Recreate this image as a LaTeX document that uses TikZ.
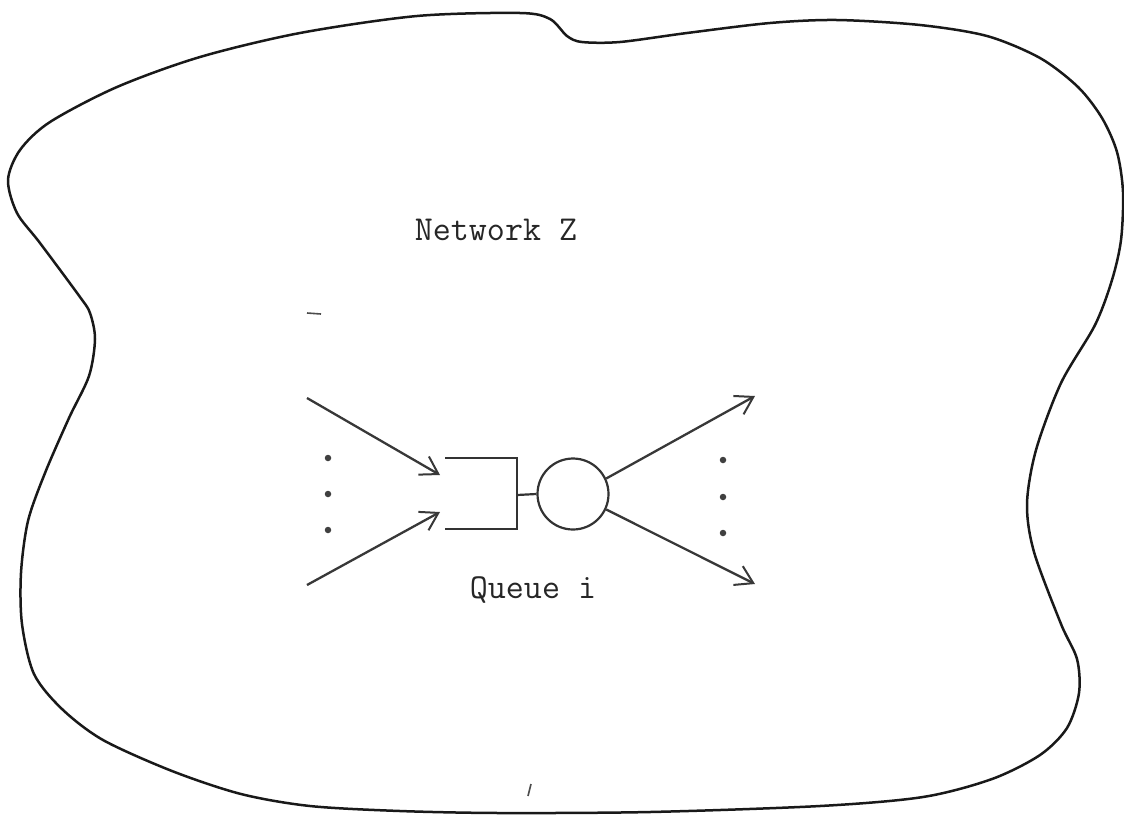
\documentclass[tikz,border=0pt]{standalone}
\usepackage{fontspec}
\usetikzlibrary{arrows.meta}
\begin{document}
\begin{tikzpicture}[x=1pt,y=-1pt,
  outline/.style={line width=2.5pt,draw=black!90,line join=round},
  flow/.style={line width=2.3pt,draw=black!78,
    -{Straight Barb[length=17pt,width=21pt,line width=2pt]}},
  part/.style={line width=2.2pt,draw=black!80},
  dotmark/.style={circle,fill=black!75,inner sep=0pt,minimum size=6.5pt},
  label/.style={font=\ttfamily\fontsize{35}{40}\selectfont\addfontfeatures{FakeBold=1},
    text=black!85,anchor=base,inner sep=0pt},
  speck/.style={line width=1.6pt,draw=black!70}]
\useasboundingbox (0,0) rectangle (1124,820);

% boundary of the network
\draw[outline] plot[smooth cycle,tension=0.5] coordinates {
  (8,180) (20,150) (50,122) (117,87) (200,57) (300,33) (417,16)
  (520,13) (550,19) (567,36) (582,42) (620,42) (687,33) (770,23)
  (837,20) (920,25) (987,36) (1040,58) (1078,87) (1102,118) (1117,152)
  (1123,192) (1121,240) (1112,280) (1095,325) (1061,383) (1036,450)
  (1027,504) (1034,552) (1061,624) (1077,659) (1079,693) (1067,728)
  (1040,755) (992,779) (923,797) (820,806) (650,812) (500,813) (400,811)
  (310,806) (241,794) (172,771) (103,740) (62,709) (34,674) (22,624)
  (21,573) (28,521) (45,473) (69,418) (89,376) (95,339) (90,313)
  (80,297) (40,243) (17,213)};

\node[label] (net) at (496,240) {Network Z};

% queue i: waiting room and server
\coordinate (qtl) at (445,458);
\coordinate (qtr) at (517,458);
\coordinate (qbr) at (517,529);
\coordinate (qbl) at (445,529);
\coordinate (qmid) at (517,495);
\node[circle,part,minimum size=71pt,inner sep=0pt] (srv) at (573,494) {};
\draw[part] (qtl) -- (qtr) -- (qbr) -- (qbl);
\draw[part] (qmid) -- (srv.west);

\node[label] (qlab) at (533,598) {Queue i};

% arrivals
\coordinate (in1) at (307,398);
\coordinate (in2) at (307,585);
\coordinate (t1) at (440,475);
\coordinate (t2) at (440,512);
\draw[flow] (in1) -- (t1);
\draw[flow] (in2) -- (t2);
\node[dotmark] (ld1) at (328,458) {};
\node[dotmark] (ld2) at (328,494) {};
\node[dotmark] (ld3) at (328,530) {};

% departures
\coordinate (out1) at (755,396);
\coordinate (out2) at (755,584);
\draw[flow] (srv.{25}) -- (out1);
\draw[flow] (srv.{-25}) -- (out2);
\node[dotmark] (rd1) at (723,460) {};
\node[dotmark] (rd2) at (723,497) {};
\node[dotmark] (rd3) at (723,533) {};

% small marks on the sheet
\coordinate (m1a) at (307,313);
\coordinate (m1b) at (321,314);
\draw[speck] (m1a) -- (m1b);
\coordinate (m2a) at (528,796);
\coordinate (m2b) at (531,784);
\draw[speck] (m2a) -- (m2b);
\end{tikzpicture}
\end{document}
